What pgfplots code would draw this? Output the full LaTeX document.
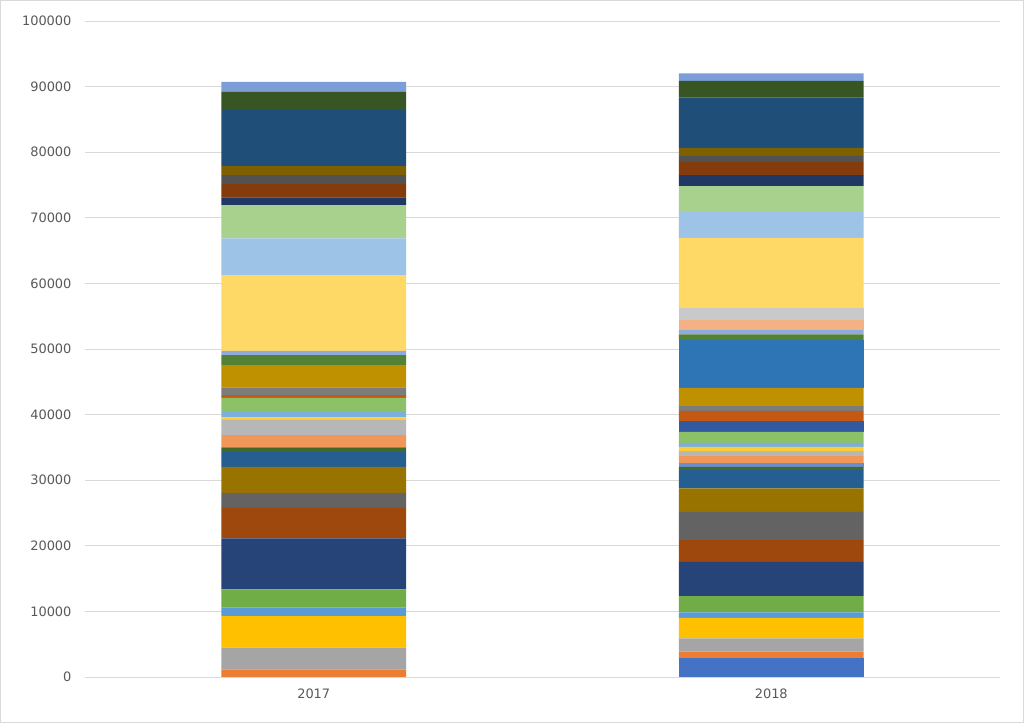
\documentclass[border=0pt]{standalone}
\usepackage{pgfplots}
\pgfplotsset{compat=1.18}
\usepackage{fontspec}
\setmainfont{DejaVu Sans}
\definecolor{c1}{HTML}{4472C4}\definecolor{c2}{HTML}{ED7D31}\definecolor{c3}{HTML}{A5A5A5}
\definecolor{c4}{HTML}{FFC000}\definecolor{c5}{HTML}{5B9BD5}\definecolor{c6}{HTML}{70AD47}
\definecolor{c7}{HTML}{264478}\definecolor{c8}{HTML}{9E480E}\definecolor{c9}{HTML}{636363}
\definecolor{c10}{HTML}{997300}\definecolor{c11}{HTML}{255E91}\definecolor{c12}{HTML}{43682B}
\definecolor{c13}{HTML}{698ED0}\definecolor{c14}{HTML}{F1975A}\definecolor{c15}{HTML}{B7B7B7}
\definecolor{c16}{HTML}{FFCD33}\definecolor{c17}{HTML}{7CAFDD}\definecolor{c18}{HTML}{8CC168}
\definecolor{c19}{HTML}{335AA1}\definecolor{c20}{HTML}{C65911}\definecolor{c21}{HTML}{7C7C7C}
\definecolor{c22}{HTML}{BF9000}\definecolor{c23}{HTML}{2E75B6}\definecolor{c24}{HTML}{548235}
\definecolor{c25}{HTML}{8FAADC}\definecolor{c26}{HTML}{F4B183}\definecolor{c27}{HTML}{C9C9C9}
\definecolor{c28}{HTML}{FFD966}\definecolor{c29}{HTML}{9DC3E6}\definecolor{c30}{HTML}{A9D18E}
\definecolor{c31}{HTML}{203864}\definecolor{c32}{HTML}{843C0C}\definecolor{c33}{HTML}{525252}
\definecolor{c34}{HTML}{7F6000}\definecolor{c35}{HTML}{1F4E79}\definecolor{c36}{HTML}{375623}
\definecolor{c37}{HTML}{7D9DD9}
\definecolor{gridc}{HTML}{D9D9D9}
\definecolor{labc}{HTML}{595959}
\begin{document}
\begin{tikzpicture}
\fill[white] (-85bp,-46bp) rectangle (939bp,677bp);
\draw[gridc, line width=1.2bp] (-84.4bp,-45.4bp) rectangle (938.4bp,676.4bp);
\begin{axis}[
  at={(0,0)}, anchor=south west,
  scale only axis, width=915bp, height=656bp,
  ybar stacked, bar width=0.404,
  xmin=-0.5, xmax=1.5, ymin=0, ymax=100000,
  xtick={0,1}, xticklabels={2017,2018},
  ytick={0,10000,...,100000},
  scaled y ticks=false,
  /pgf/number format/fixed,
  /pgf/number format/1000 sep={},
  /pgf/number format/assume math mode=true,
  ymajorgrids, grid style={gridc, line width=0.9bp},
  axis line style={draw=none},
  axis x line*=bottom,
  x axis line style={draw=gridc, line width=0.9bp},
  major tick length=0pt,
  tick label style={font=\fontsize{13}{15}\selectfont, text=labc},
  yticklabel style={xshift=-10bp},
  xticklabel style={yshift=-8bp},
  every axis plot/.append style={draw=none},
]
\addplot[fill=c1] coordinates {(0,0) (1,2850)};
\addplot[fill=c2] coordinates {(0,1130) (1,1000)};
\addplot[fill=c3] coordinates {(0,3330) (1,2040)};
\addplot[fill=c4] coordinates {(0,4830) (1,3140)};
\addplot[fill=c5] coordinates {(0,1270) (1,820)};
\addplot[fill=c6] coordinates {(0,2790) (1,2480)};
\addplot[fill=c7] coordinates {(0,7770) (1,5230)};
\addplot[fill=c8] coordinates {(0,4670) (1,3300)};
\addplot[fill=c9] coordinates {(0,2290) (1,4310)};
\addplot[fill=c10] coordinates {(0,3960) (1,3570)};
\addplot[fill=c11] coordinates {(0,2290) (1,2790)};
\addplot[fill=c12] coordinates {(0,660) (1,500)};
\addplot[fill=c13] coordinates {(0,0) (1,520)};
\addplot[fill=c14] coordinates {(0,1880) (1,1110)};
\addplot[fill=c15] coordinates {(0,2290) (1,760)};
\addplot[fill=c16] coordinates {(0,410) (1,660)};
\addplot[fill=c17] coordinates {(0,810) (1,610)};
\addplot[fill=c18] coordinates {(0,2180) (1,1680)};
\addplot[fill=c19] coordinates {(0,0) (1,1630)};
\addplot[fill=c20] coordinates {(0,410) (1,1570)};
\addplot[fill=c21] coordinates {(0,1170) (1,720)};
\addplot[fill=c22] coordinates {(0,3400) (1,2790)};
\addplot[fill=c23] coordinates {(0,0) (1,7270)};
\addplot[fill=c24] coordinates {(0,1520) (1,870)};
\addplot[fill=c25] coordinates {(0,660) (1,660)};
\addplot[fill=c26] coordinates {(0,0) (1,1520)};
\addplot[fill=c27] coordinates {(0,0) (1,1780)};
\addplot[fill=c28] coordinates {(0,11540) (1,10760)};
\addplot[fill=c29] coordinates {(0,5590) (1,3960)};
\addplot[fill=c30] coordinates {(0,5080) (1,3920)};
\addplot[fill=c31] coordinates {(0,1170) (1,1680)};
\addplot[fill=c32] coordinates {(0,2030) (1,2030)};
\addplot[fill=c33] coordinates {(0,1370) (1,910)};
\addplot[fill=c34] coordinates {(0,1370) (1,1220)};
\addplot[fill=c35] coordinates {(0,8540) (1,7680)};
\addplot[fill=c36] coordinates {(0,2790) (1,2530)};
\addplot[fill=c37] coordinates {(0,1520) (1,1130)};
\end{axis}
\end{tikzpicture}
\end{document}
